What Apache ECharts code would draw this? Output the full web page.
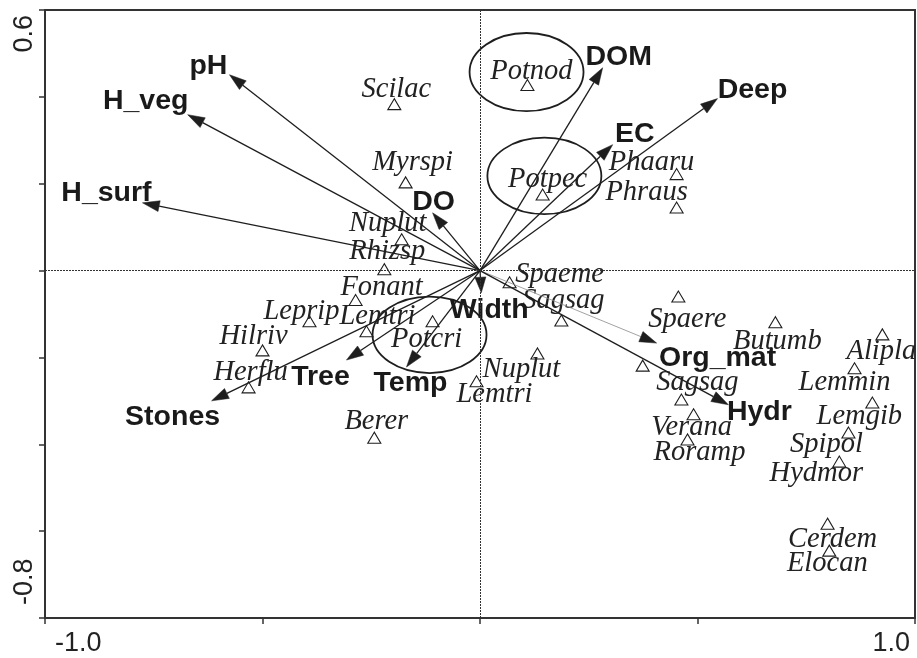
<!DOCTYPE html>
<html>
<head>
<meta charset="utf-8">
<script src="https://cdn.jsdelivr.net/npm/echarts@6/dist/echarts.min.js"></script>
<style>
html,body{margin:0;padding:0;background:#fff;}
#chart{width:917px;height:658px;}
</style>
</head>
<body>
<div id="chart"></div>
<script>
// ---------- DATA ----------
// Environmental variables (arrow tips)
const envNames = ['pH','H_veg','H_surf','DO','DOM','EC','Deep','Width','Temp','Tree','Stones','Org_mat','Hydr'];
const envX = [-0.576,-0.672,-0.776,-0.109,0.282,0.305,0.546,0.003,-0.169,-0.307,-0.617,0.406,0.571];
const envY = [0.451,0.359,0.156,0.133,0.467,0.290,0.396,-0.051,-0.222,-0.206,-0.300,-0.167,-0.309];

// Species scores
const spNames = ['Potnod','Scilac','Myrspi','Potpec','Phaaru','Phraus','Nuplut','Rhizsp','Fonant','Leprip','Lemtri','Potcri','Hilriv','Herflu','Berer','Nuplut','Lemtri','Spaeme','Sagsag','Spaere','','Sagsag','Verana','Roramp','Butumb','Alipla','Lemmin','Lemgib','Spipol','Hydmor','Cerdem','Elocan'];
const spX = [0.109,-0.197,-0.171,0.144,0.452,0.452,-0.180,-0.220,-0.286,-0.392,-0.261,-0.109,-0.500,-0.532,-0.243,0.132,-0.008,0.068,0.187,0.456,0.374,0.463,0.491,0.477,0.679,0.925,0.861,0.902,0.847,0.826,0.799,0.803];
const spY = [0.426,0.382,0.202,0.174,0.221,0.144,0.071,0.002,-0.069,-0.118,-0.141,-0.118,-0.185,-0.270,-0.386,-0.192,-0.256,-0.028,-0.116,-0.061,-0.220,-0.298,-0.332,-0.390,-0.120,-0.148,-0.226,-0.305,-0.374,-0.441,-0.584,-0.646];

// Ellipses around Potamogeton species
const ellNames = ['Potnod','Potpec','Potcri'];
const ellX = [0.107,0.148,-0.116];
const ellY = [0.457,0.218,-0.148];
const ellRX = [0.131,0.131,0.131];
const ellRY = [0.090,0.088,0.088];

// Axis tick labels
const xTickValues = [-1, 1];
const xTickTexts = ['-1.0','1.0'];
const yTickValues = [-0.8, 0.6];
const yTickTexts = ['-0.8','0.6'];

// ---------- STYLE ----------
const INK = '#1e1e1e';
const envLabelOffset = [[-21,-9],[-42,-14],[-36,-10],[1,-11],[16,-11],[22,-10],[35,-8],[8,17],[4,16],[-26,17],[-39,16],[61,15],[31,7]];
const spLabelOffset = [[4,-14],[2,-15],[7,-20],[5,-15],[-25,-12],[-30,-16],[-14,-16],[3,-18],[26,-13],[-8,-10],[11,-15],[-6,18],[-9,-14],[2,-15],[2,-17],[-16,16],[18,13],[50,-8],[2,-20],[9,22],[0,0],[16,-17],[-2,13],[12,13],[2,19],[-1,17],[-10,14],[-13,13],[-22,12],[-23,11],[5,15],[-2,12]];

function tickText(values, texts, v) {
  for (let i = 0; i < values.length; i++) {
    if (Math.abs(values[i] - v) < 1e-6) return texts[i];
  }
  return '';
}

const chart = echarts.init(document.getElementById('chart'), null, {renderer: 'canvas'});

const envData = envNames.map((n, i) => [envX[i], envY[i], i]);
const spData = spNames.map((n, i) => [spX[i], spY[i], i]);
const ellData = ellNames.map((n, i) => [ellX[i], ellY[i], ellRX[i], ellRY[i]]);

const option = {
  backgroundColor: '#fff',
  animation: false,
  grid: {
    left: 45, right: 2, top: 10, bottom: 40,
    show: true, borderColor: '#333', borderWidth: 2, backgroundColor: 'transparent'
  },
  xAxis: {
    type: 'value', min: -1, max: 1, interval: 0.5,
    axisLine: { show: true, onZero: false, lineStyle: { color: '#333', width: 2 } },
    axisTick: { show: true, inside: false, length: 6, lineStyle: { color: '#333', width: 1.5 } },
    splitLine: { show: false },
    axisLabel: {
      fontSize: 27, fontFamily: '"Liberation Sans", Arial, sans-serif', color: '#222',
      margin: 12,
      alignMinLabel: 'left', alignMaxLabel: 'right',
      padding: [0, 5, 0, 10],
      formatter: v => tickText(xTickValues, xTickTexts, v)
    }
  },
  yAxis: {
    type: 'value', min: -0.8, max: 0.6, interval: 0.2,
    axisLine: { show: true, onZero: false, lineStyle: { color: '#333', width: 2 } },
    axisTick: { show: true, inside: false, length: 6, lineStyle: { color: '#333', width: 1.5 } },
    splitLine: { show: false },
    axisLabel: {
      rotate: 90,
      fontSize: 27, fontFamily: '"Liberation Sans", Arial, sans-serif', color: '#222',
      margin: 7,
      alignMinLabel: 'left', alignMaxLabel: 'right',
      padding: [0, 5, 0, 13],
      formatter: v => tickText(yTickValues, yTickTexts, v)
    }
  },
  series: [
    {
      // zero reference lines
      type: 'scatter', data: [], silent: true,
      markLine: {
        silent: true, symbol: 'none', label: { show: false },
        lineStyle: { type: [2, 1], color: '#333', width: 1 },
        data: [{ xAxis: 0 }, { yAxis: 0 }]
      }
    },
    {
      // ellipses
      type: 'custom', silent: true, clip: false,
      data: ellData,
      renderItem: function (params, api) {
        const c = api.coord([api.value(0), api.value(1)]);
        const s = api.size([api.value(2), api.value(3)]);
        return {
          type: 'ellipse',
          shape: { cx: c[0], cy: c[1], rx: s[0], ry: s[1] },
          style: { fill: 'none', stroke: INK, lineWidth: 1.8 }
        };
      }
    },
    {
      // species triangles + names
      type: 'custom', clip: false, z: 3,
      data: spData,
      renderItem: function (params, api) {
        const i = api.value(2);
        const c = api.coord([api.value(0), api.value(1)]);
        const off = spLabelOffset[i];
        const children = [{
          type: 'polygon',
          shape: { points: [[c[0], c[1] - 6], [c[0] - 6.5, c[1] + 5], [c[0] + 6.5, c[1] + 5]] },
          style: { fill: 'none', stroke: INK, lineWidth: 1.1 }
        }];
        if (spNames[i]) {
          children.push({
            type: 'text',
            style: {
              text: spNames[i],
              x: c[0] + off[0], y: c[1] + off[1],
              align: 'center', verticalAlign: 'middle',
              font: 'italic 28.5px "Liberation Serif", "Times New Roman", serif',
              fill: '#222'
            }
          });
        }
        return { type: 'group', children: children };
      }
    },
    {
      // environmental arrows
      type: 'custom', clip: false, z: 4,
      data: envData,
      renderItem: function (params, api) {
        const i = api.value(2);
        const o = api.coord([0, 0]);
        const t = api.coord([api.value(0), api.value(1)]);
        const dx = t[0] - o[0], dy = t[1] - o[1];
        const len = Math.sqrt(dx * dx + dy * dy);
        const ux = dx / len, uy = dy / len;
        const nx = -uy, ny = ux;
        const hl = Math.min(17, len * 0.7), hw = 5.5;
        const bx = t[0] - ux * hl, by = t[1] - uy * hl;
        const thin = envNames[i] === 'Org_mat';
        const off = envLabelOffset[i];
        return {
          type: 'group',
          children: [
            {
              type: 'line',
              shape: { x1: o[0], y1: o[1], x2: bx, y2: by },
              style: { stroke: thin ? '#8a8a8a' : INK, lineWidth: thin ? 0.8 : 1.3 }
            },
            {
              type: 'polygon',
              shape: { points: [[t[0], t[1]], [bx + nx * hw, by + ny * hw], [bx - nx * hw, by - ny * hw]] },
              style: { fill: INK, stroke: INK, lineWidth: 0.5 }
            },
            {
              type: 'text',
              style: {
                text: envNames[i],
                x: t[0] + off[0], y: t[1] + off[1],
                align: 'center', verticalAlign: 'middle',
                font: 'bold 28.5px "Liberation Sans", Arial, sans-serif',
                fill: '#1a1a1a'
              }
            }
          ]
        };
      }
    }
  ]
};

chart.setOption(option);
</script>
</body>
</html>
